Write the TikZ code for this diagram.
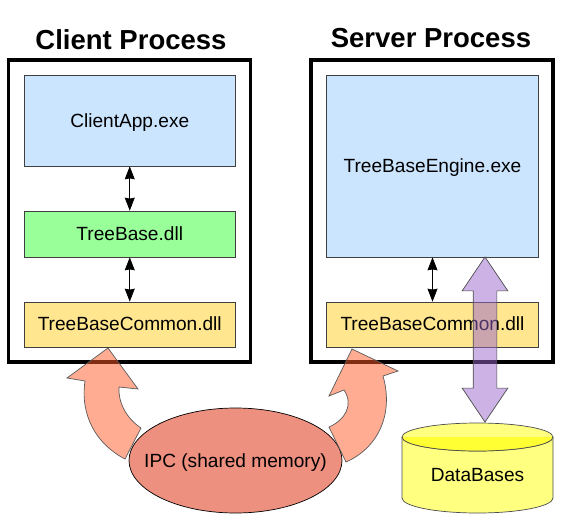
\documentclass[tikz,border=0pt]{standalone}
\usepackage{fontspec}
\setmainfont{Liberation Sans}
\usepackage{xcolor}
\usepackage{tikz}
\usetikzlibrary{shapes.geometric, shapes.arrows, arrows.meta, positioning, calc}
\definecolor{appblue}{HTML}{CCE5FF}
\definecolor{dllgreen}{HTML}{99FF99}
\definecolor{commonyellow}{HTML}{FFE68F}
\definecolor{ipcred}{HTML}{EE9080}
\definecolor{dbyellow}{HTML}{FFFF80}
\definecolor{dbtop}{HTML}{FFFF33}
\definecolor{flowpurple}{HTML}{9966CC}
\definecolor{curveorange}{HTML}{FF5A28}

\begin{document}
\begin{tikzpicture}[
    x=1pt, y=-1pt,
    process/.style={rectangle, draw, line width=3.2pt, minimum width=242pt, minimum height=302pt},
    label text/.style={font=\fontsize{19.1}{21}\selectfont, text height=12.5pt, text depth=0pt},
    module/.style={rectangle, draw=black!75, line width=0.7pt, minimum width=211.5pt, align=center, label text},
    title/.style={font=\fontsize{27.5}{30}\selectfont\bfseries},
    arrow/.style={{Stealth[length=13pt,width=10pt,inset=1pt]}-{Stealth[length=13pt,width=10pt,inset=1pt]}, line width=0.7pt},
    curved/.style={draw=black!65, line width=0.7pt, fill=curveorange, fill opacity=0.5},
    flow/.style={double arrow, draw=black!70, line width=0.7pt, fill=flowpurple, fill opacity=0.5, shape border rotate=90, minimum height=165pt, minimum width=45pt, double arrow head extend=11pt, double arrow tip angle=68, inner sep=11.5pt},
    dbline/.style={draw=black!70, line width=0.7pt},
]
\useasboundingbox (0,0) rectangle (565,530);

\node[title] (clienttitle) at (131,40) {Client Process};
\node[title] (servertitle) at (431,38) {Server Process};
\node[process] (client) at (129.5,211) {};
\node[process] (server) at (432,211) {};

\node[module, fill=appblue, minimum height=90.5pt] (clientapp) at (129.75,120.75) {ClientApp.exe};
\node[module, fill=dllgreen, minimum height=46pt] (treebase) at (129.75,234) {TreeBase.dll};
\node[module, fill=commonyellow, minimum height=45pt] (clientcommon) at (129.75,324.5) {TreeBaseCommon.dll};
\node[module, fill=appblue, minimum height=181.5pt] (engine) at (432.5,166.25) {TreeBaseEngine.exe};
\node[module, fill=commonyellow, minimum height=45pt] (servercommon) at (432.5,324.5) {TreeBaseCommon.dll};

\draw[arrow] (clientapp) -- (treebase);
\draw[arrow] (treebase) -- (clientcommon);
\draw[arrow] (engine) -- (servercommon);

\node[ellipse, draw, line width=0.7pt, fill=ipcred, minimum width=213pt, minimum height=105pt, inner sep=0pt, label={[label text, yshift=-0.7pt]center:IPC (shared memory)}] (ipc) at (235.5,460.5) {};

% cylinder
\draw[dbline, fill=dbyellow] (402,437) -- (402,498) arc[start angle=180, end angle=360, x radius=75.5pt, y radius=15pt] -- (553,437);
\draw[dbline, fill=dbyellow] (477.5,437) ellipse[x radius=75.5pt, y radius=14pt];
\fill[dbtop] (402,437) arc[start angle=180, end angle=360, x radius=75.5pt, y radius=14pt] -- cycle;
\draw[dbline] (402,437) arc[start angle=180, end angle=360, x radius=75.5pt, y radius=14pt];
\node[label text] (db) at (477.5,475.5) {DataBases};

\node[flow] (dbflow) at (485,339.5) {};

\draw[curved] (108,348) -- (138,389) -- (119,387)
    .. controls (118,402) and (126,418) .. (141,428)
    -- (125,459)
    .. controls (96,444) and (80,415) .. (85,381)
    -- (67,378) -- cycle;
\draw[curved] (352,349) -- (398,371) -- (383,376)
    .. controls (394,414) and (378,448) .. (346,462)
    -- (329,427)
    .. controls (345,420) and (354,405) .. (344,390)
    -- (329,396) -- cycle;
\end{tikzpicture}
\end{document}
